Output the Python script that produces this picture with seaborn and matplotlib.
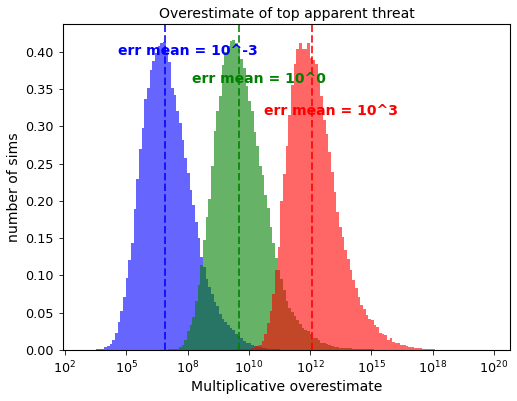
import numpy as np
import pandas as pd
import seaborn as sns
import matplotlib
matplotlib.use("Agg")
import matplotlib.pyplot as plt

# log10 bins shared by all three histograms
BIN_START = 3.778
BIN_WIDTH = 0.1088
N_BINS = 128

# density per bin (first bin index for each series)
blue_first = 0
blue_heights = [
    0.001, 0.002, 0.002, 0.0036, 0.0054, 0.008, 0.0134, 0.023, 0.037, 0.053,
    0.071, 0.096, 0.121, 0.144, 0.189, 0.229, 0.270, 0.298, 0.337, 0.351,
    0.376, 0.388, 0.398, 0.407, 0.411, 0.413, 0.400, 0.386, 0.351, 0.342,
    0.320, 0.304, 0.281, 0.257, 0.237, 0.214, 0.194, 0.172, 0.150, 0.125,
    0.112, 0.095, 0.085, 0.075, 0.065, 0.059, 0.049, 0.042, 0.037, 0.0335,
    0.030, 0.027, 0.021, 0.019, 0.016, 0.012, 0.010, 0.009, 0.007, 0.006,
    0.005, 0.004, 0.003, 0.003, 0.002, 0.002, 0.001, 0.001, 0.001,
]

green_first = 27
green_heights = [
    0.001, 0.001, 0.002, 0.002, 0.004, 0.0067, 0.014, 0.025, 0.0335, 0.045,
    0.066, 0.087, 0.114, 0.147, 0.179, 0.203, 0.247, 0.294, 0.320, 0.340,
    0.382, 0.399, 0.408, 0.414, 0.416, 0.411, 0.403, 0.390, 0.378, 0.354,
    0.334, 0.320, 0.292, 0.273, 0.247, 0.235, 0.208, 0.191, 0.165, 0.143,
    0.123, 0.107, 0.095, 0.080, 0.066, 0.056, 0.051, 0.0455, 0.040, 0.035,
    0.030, 0.027, 0.025, 0.021, 0.016, 0.016, 0.014, 0.010, 0.010, 0.008,
    0.0067, 0.0055, 0.0045, 0.004, 0.003, 0.003, 0.003, 0.003, 0.003, 0.002,
    0.002, 0.002, 0.002, 0.002, 0.001, 0.001, 0.001,
]

red_first = 52
red_heights = [
    0.001, 0.001, 0.001, 0.002, 0.002, 0.002, 0.003, 0.004, 0.005, 0.007,
    0.012, 0.022, 0.036, 0.052, 0.075, 0.108, 0.138, 0.200, 0.236, 0.273,
    0.315, 0.355, 0.384, 0.403, 0.412, 0.404, 0.404, 0.412, 0.392, 0.389,
    0.384, 0.360, 0.340, 0.308, 0.290, 0.266, 0.239, 0.212, 0.185, 0.165,
    0.152, 0.134, 0.122, 0.107, 0.094, 0.083, 0.071, 0.060, 0.0545, 0.047,
    0.041, 0.040, 0.034, 0.031, 0.023, 0.0214, 0.020, 0.0134, 0.0165, 0.011,
    0.0098, 0.0098, 0.0067, 0.0067, 0.0054, 0.0045, 0.0045, 0.0031, 0.0031, 0.0031,
    0.0018, 0.0018, 0.0018, 0.0018, 0.0018,
]

# log10 of the mean line for each series
mean_lines = [6.58, 9.59, 12.565]
colors = ["blue", "green", "red"]
labels = ["err mean = 10^-3", "err mean = 10^0", "err mean = 10^3"]
label_x = [4.675, 7.67, 10.62]
label_y = [0.401, 0.363, 0.320]

xtick_vals = [2.5, 5.0, 7.5, 10.0, 12.5, 15.0, 17.5, 20.0]
xtick_labels = ["$10^{2}$", "$10^{5}$", "$10^{8}$", "$10^{10}$",
                "$10^{12}$", "$10^{15}$", "$10^{18}$", "$10^{20}$"]


def main():
    fig, ax = plt.subplots(figsize=(517 / 72, 401 / 72), dpi=72)
    fig.subplots_adjust(left=0.1225, right=0.9865, bottom=0.127, top=0.940)

    edges = BIN_START + BIN_WIDTH * np.arange(N_BINS + 1)
    series = [(blue_first, blue_heights), (green_first, green_heights),
              (red_first, red_heights)]

    for (first, heights), color in zip(series, colors):
        df = pd.DataFrame({
            "logx": edges[first:first + len(heights)] + BIN_WIDTH / 2,
            "density": heights,
        })
        # bins as a plain list: seaborn compares bins to "auto" when weights are used
        sns.histplot(data=df, x="logx", weights="density", bins=edges.tolist(),
                     stat="count", color=color, alpha=0.6, linewidth=0, ax=ax)

    for xm, color, text, tx, ty in zip(mean_lines, colors, labels, label_x, label_y):
        ax.axvline(xm, color=color, linestyle="--", linewidth=2, alpha=0.8)
        ax.text(tx, ty, text, color=color, fontsize=14, fontweight="bold",
                ha="left", va="center")

    ax.set_xlim(2.43, 20.66)
    ax.set_ylim(0, 0.437)
    ax.set_xticks(xtick_vals)
    ax.set_xticklabels(xtick_labels)
    ax.tick_params(labelsize=12.7, length=4.5, pad=5)
    for spine in ax.spines.values():
        spine.set_linewidth(1.1)

    ax.set_title("Overestimate of top apparent threat", fontsize=14)
    ax.set_xlabel("Multiplicative overestimate", fontsize=14)
    ax.set_ylabel("number of sims", fontsize=14)

    fig.savefig("out.png", dpi=72)
    plt.close(fig)


if __name__ == "__main__":
    main()
